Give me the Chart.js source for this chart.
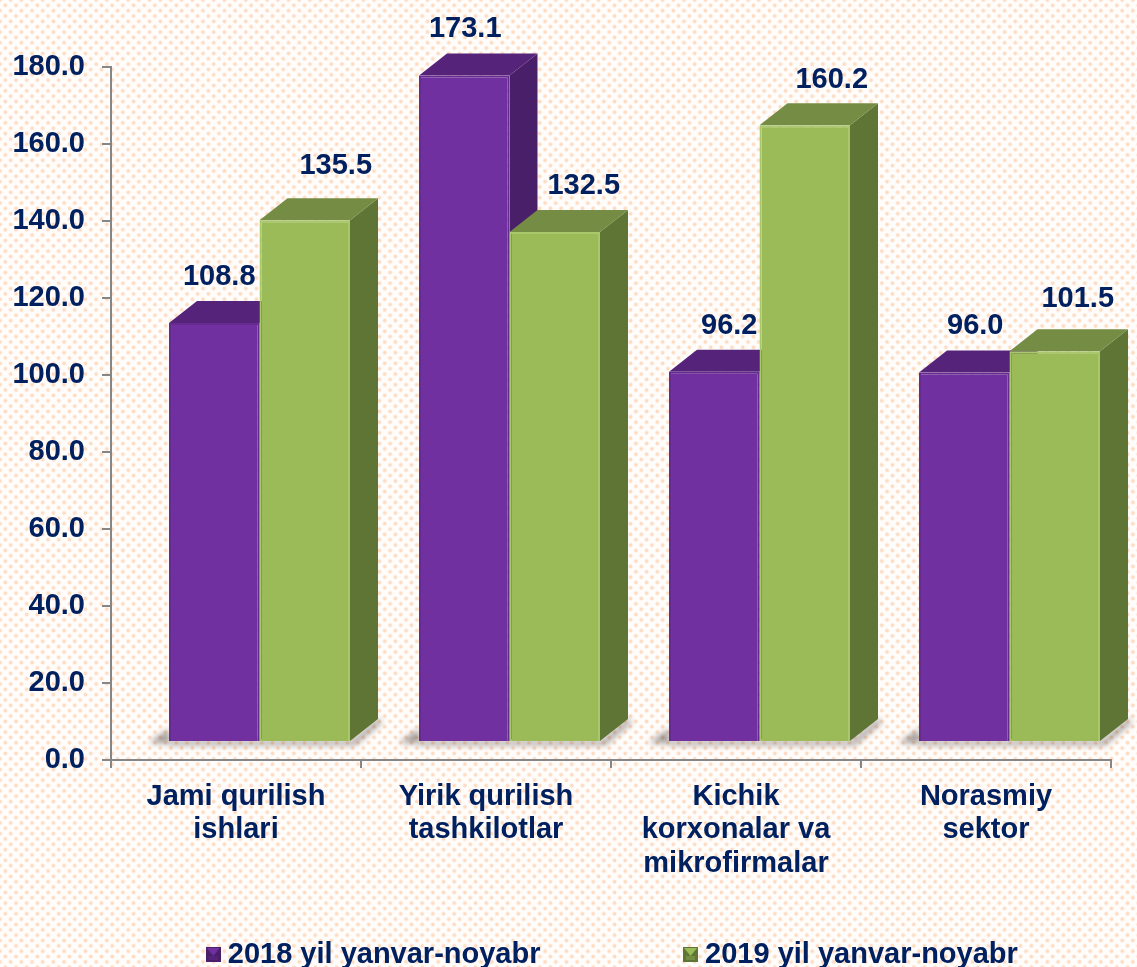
<!DOCTYPE html>
<html>
<head>
<meta charset="utf-8">
<title>Qurilish ishlari</title>
<script src="https://cdn.jsdelivr.net/npm/chart.js@4"></script>
<style>
  html, body { margin: 0; padding: 0; width: 1137px; height: 967px; overflow: hidden; }
  body {
    background-color: #fffdfb;
    background-image:
      radial-gradient(circle, #fddcc4 1.4px, transparent 2.4px),
      radial-gradient(circle, #fddcc4 1.4px, transparent 2.4px);
    background-size: 10.7px 10.7px;
    background-position: 0 0, 5.35px 5.35px;
  }
  canvas { display: block; }
</style>
</head>
<body>
<canvas id="chart" width="1137" height="979"></canvas>
<script>
// -------------------------
// Data
// -------------------------
const categories = [
  ["Jami qurilish", "ishlari"],
  ["Yirik qurilish", "tashkilotlar"],
  ["Kichik", "korxonalar va", "mikrofirmalar"],
  ["Norasmiy", "sektor"]
];
const seriesNames = ["2018 yil yanvar-noyabr", "2019 yil yanvar-noyabr"];
const values2018 = [108.8, 173.1, 96.2, 96.0];
const values2019 = [135.5, 132.5, 160.2, 101.5];

// hand placed value labels, as in the original slide
const labelShift2018 = [[5, -46], [1, -47], [15, -46], [11, -46]];
const labelShift2019 = [[31, -54], [29, -46], [27, -45], [23, -52]];

const NAVY = "#002060";
const FONT = "'Liberation Sans', Arial, sans-serif";
const FLOOR_DX = 23.5, FLOOR_DY = -18;  // front plane sits off the axes
const DEPTH_X = 28, DEPTH_Y = 22;
const X_LABEL_ROOM = 120;
const LEGEND_NUDGE = 60;

const looks = [
  { front: "#7030a0", edge: "#652b90", top: "#55247a", side: "#4a1f6a", shift: labelShift2018 },
  { front: "#9bbb59", edge: "#a9c86b", top: "#748c43", side: "#5f7535", shift: labelShift2019 }
];

// -------------------------
// Legend marker
// -------------------------
function legendMarker(look) {
  const c = document.createElement("canvas");
  c.width = 15; c.height = 15;
  const g = c.getContext("2d");
  g.fillStyle = look.side;
  g.fillRect(0, 0, 15, 15);
  g.fillStyle = look.front;
  g.beginPath();
  g.moveTo(1, 1); g.lineTo(14, 1); g.lineTo(7.5, 9); g.closePath();
  g.fill();
  g.fillStyle = look.top;
  g.fillRect(3, 9, 9, 4);
  return c;
}

// -------------------------
// 3D faces, shadows and value labels
// -------------------------
function poly(ctx, pts) {
  ctx.beginPath();
  pts.forEach((p, i) => i ? ctx.lineTo(p[0], p[1]) : ctx.moveTo(p[0], p[1]));
  ctx.closePath();
  ctx.fill();
}

function drawShadows(chart) {
  const ctx = chart.ctx;
  ctx.save();
  ctx.filter = "blur(3px)";
  ctx.fillStyle = "rgba(90,80,75,0.6)";
  chart.getDatasetMeta(0).data.forEach((bar, i) => {
    const right = chart.getDatasetMeta(1).data[i];
    const l = bar.x - bar.width / 2, r = right.x + right.width / 2, b = bar.base;
    poly(ctx, [[l, b - 12], [l, b + 2], [l - 20, b + 2]]);
    poly(ctx, [[l, b], [r + 2, b], [r + DEPTH_X, b - DEPTH_Y], [r + DEPTH_X + 4, b - DEPTH_Y + 3], [r + 5, b + 4], [l, b + 4]]);
  });
  ctx.restore();
}

function drawFaces(ctx, meta, look) {
  meta.data.forEach(bar => {
    const l = bar.x - bar.width / 2, r = bar.x + bar.width / 2;
    ctx.fillStyle = look.side;
    poly(ctx, [[r, bar.y], [r + DEPTH_X, bar.y - DEPTH_Y], [r + DEPTH_X, bar.base - DEPTH_Y], [r, bar.base]]);
    ctx.fillStyle = look.top;
    poly(ctx, [[l, bar.y], [l + DEPTH_X, bar.y - DEPTH_Y], [r + DEPTH_X, bar.y - DEPTH_Y], [r, bar.y]]);
  });
}

const bars3d = {
  id: "bars3d",
  afterLayout(chart) {
    // legend is pushed up over the axis box, so give the category labels their room back
    chart.scales.x.bottom = chart.scales.x.top + X_LABEL_ROOM;
    chart.legend.left += LEGEND_NUDGE;
    chart.legend.right += LEGEND_NUDGE;
  },
  beforeDatasetsDraw(chart) {
    const ctx = chart.ctx;
    ctx.save();
    ctx.translate(FLOOR_DX, FLOOR_DY);
    drawShadows(chart);
    // first series goes first so the second one sits in front of its side
    [0, 1].forEach(d => {
      const meta = chart.getDatasetMeta(d);
      drawFaces(ctx, meta, looks[d]);
      meta.controller.draw();
    });
    ctx.restore();

    ctx.save();
    ctx.fillStyle = NAVY;
    ctx.font = "bold 29px " + FONT;
    ctx.textAlign = "center";
    ctx.textBaseline = "middle";
    [0, 1].forEach(d => {
      chart.getDatasetMeta(d).data.forEach((bar, i) => {
        const s = looks[d].shift[i];
        const v = chart.data.datasets[d].data[i];
        ctx.fillText(v.toFixed(1), bar.x + FLOOR_DX + s[0], bar.y + FLOOR_DY + s[1]);
      });
    });
    ctx.restore();
    return false;
  }
};

// -------------------------
// Chart.js Setup
// -------------------------
new Chart(document.getElementById("chart").getContext("2d"), {
  type: "bar",
  data: {
    labels: categories,
    datasets: [
      { label: seriesNames[0], data: values2018, backgroundColor: looks[0].front, borderColor: looks[0].edge, borderWidth: 2 },
      { label: seriesNames[1], data: values2019, backgroundColor: looks[1].front, borderColor: looks[1].edge, borderWidth: 2 }
    ]
  },
  options: {
    responsive: false,
    animation: false,
    barPercentage: 1,
    categoryPercentage: 0.724,
    layout: { padding: { top: 67, right: 26, left: 0, bottom: 0 } },
    scales: {
      x: {
        grid: { drawOnChartArea: false, color: "#868686", lineWidth: 2, tickLength: 8 },
        border: { color: "#868686", width: 2 },
        ticks: { color: NAVY, font: { family: FONT, size: 29, weight: "bold", lineHeight: 1.16 }, maxRotation: 0, autoSkip: false, padding: 12 },
        afterFit(scale) { scale.height = 30; }
      },
      y: {
        min: 0, max: 180,
        grid: { drawOnChartArea: false, color: "#868686", lineWidth: 2, tickLength: 9 },
        border: { color: "#868686", width: 2 },
        ticks: { stepSize: 20, color: NAVY, font: { family: FONT, size: 29, weight: "bold" }, padding: 17, callback: v => v.toFixed(1) },
        afterFit(scale) { scale.width = 111; }
      }
    },
    plugins: {
      legend: {
        position: "bottom",
        labels: {
          color: NAVY,
          font: { family: FONT, size: 29, weight: "bold" },
          usePointStyle: true,
          pointStyleWidth: 0.1,
          padding: 150,
          generateLabels: chart => chart.data.datasets.map((d, i) => ({
            text: d.label,
            fontColor: NAVY,
            pointStyle: legendMarker(looks[i]),
            datasetIndex: i
          }))
        }
      },
      tooltip: { enabled: false }
    }
  },
  plugins: [bars3d]
});
</script>
</body>
</html>
